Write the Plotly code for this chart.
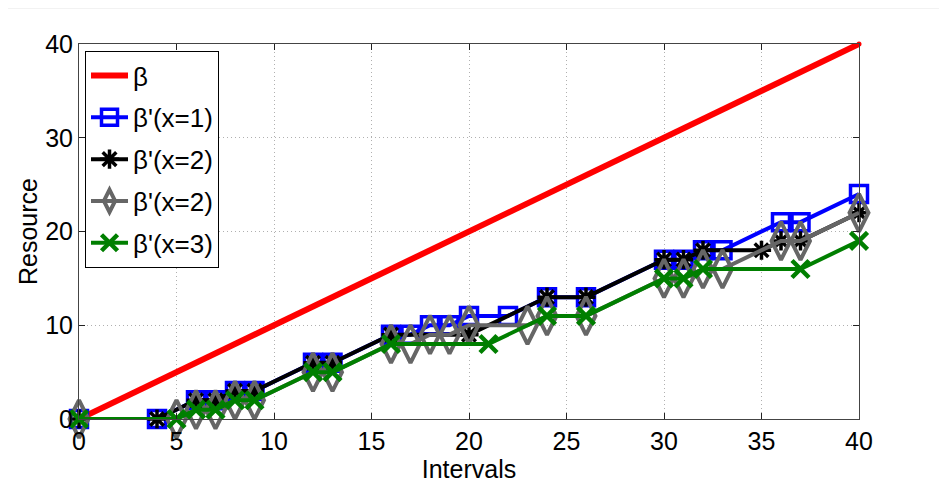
import plotly.graph_objects as go

# ---- data ----
beta_x = [0, 40]
beta_y = [0, 40]

b1_x = [0, 4, 6, 7, 8, 9, 12, 13, 16, 17, 18, 19, 20, 22, 24, 26, 30, 31, 32, 33, 36, 37, 40]
b1_y = [0, 0, 2, 2, 3, 3, 6, 6, 9, 9, 10, 10, 11, 11, 13, 13, 17, 17, 18, 18, 21, 21, 24]

b2_x = [0, 4, 6, 7, 8, 9, 12, 13, 16, 20, 24, 26, 30, 31, 32, 35, 36, 37, 40]
b2_y = [0, 0, 2, 2, 3, 3, 6, 6, 9, 9, 13, 13, 17, 17, 18, 18, 19, 19, 22]

b2b_x = [0, 5, 6, 7, 8, 9, 12, 13, 16, 17, 18, 19, 20, 23, 24, 26, 30, 31, 32, 33, 36, 37, 40]
b2b_y = [0, 0, 1, 1, 2, 2, 5, 5, 8, 8, 9, 9, 10, 10, 11, 11, 15, 15, 16, 16, 19, 19, 22]

b3_x = [0, 5, 6, 7, 8, 9, 12, 13, 16, 21, 24, 26, 30, 31, 32, 37, 40]
b3_y = [0, 0, 1, 1, 2, 2, 5, 5, 8, 8, 11, 11, 15, 15, 16, 16, 19]

names = ["β", "β'(x=1)", "β'(x=2)", "β'(x=2)", "β'(x=3)"]
x_ticks = [0, 5, 10, 15, 20, 25, 30, 35, 40]
y_ticks = [0, 10, 20, 30, 40]

FONT = "Liberation Sans Narrow, Arial Narrow, Liberation Sans, Arial, sans-serif"

fig = go.Figure()
fig.add_trace(go.Scatter(x=beta_x, y=beta_y, name=names[0], mode="lines+markers",
                         line=dict(color="#ff0000", width=6),
                         marker=dict(symbol="circle", size=5, color="#ff0000"),
                         legendgroup="g0", cliponaxis=False))
fig.add_trace(go.Scatter(x=b1_x, y=b1_y, name=names[1], mode="lines+markers",
                         line=dict(color="#0000ff", width=4),
                         marker=dict(symbol="square-open", size=17, color="#0000ff",
                                     line=dict(width=3.5, color="#0000ff")),
                         legendgroup="g1", cliponaxis=False))
fig.add_trace(go.Scatter(x=b2_x, y=b2_y, name=names[2], mode="lines+markers",
                         line=dict(color="#000000", width=4),
                         marker=dict(symbol="asterisk-open", size=16, color="#000000",
                                     line=dict(width=3.5, color="#000000")),
                         legendgroup="g2", cliponaxis=False))
fig.add_trace(go.Scatter(x=b2b_x, y=b2b_y, name=names[3], mode="lines+markers",
                         line=dict(color="#666666", width=4),
                         marker=dict(symbol="diamond-tall-open", size=27, color="#666666",
                                     line=dict(width=4, color="#666666")),
                         legendgroup="g3", cliponaxis=False))
fig.add_trace(go.Scatter(x=b3_x, y=b3_y, name=names[4], mode="lines+markers",
                         line=dict(color="#007f00", width=4),
                         marker=dict(symbol="x-thin-open", size=17, color="#007f00",
                                     line=dict(width=4.5, color="#007f00")),
                         legendgroup="g4", cliponaxis=False))

axis_common = dict(
    showline=True, linecolor="#444444", linewidth=1, mirror="ticks",
    ticks="inside", ticklen=6, tickcolor="#222222",
    showgrid=True, gridcolor="#b0b0b0", griddash="1px,3px", gridwidth=1,
    zeroline=False,
    tickfont=dict(family=FONT, size=25, color="black"),
)

fig.update_xaxes(range=[0, 40], tickvals=x_ticks, ticktext=[str(v) for v in x_ticks],
                 title=dict(text="Intervals", font=dict(family=FONT, size=25, color="black"),
                            standoff=0),
                 **axis_common)
fig.update_yaxes(range=[0, 40], tickvals=y_ticks, ticktext=[str(v) for v in y_ticks],
                 title=dict(text="Resource", font=dict(family=FONT, size=25, color="black"),
                            standoff=0),
                 **axis_common)

fig.update_layout(
    width=947, height=484,
    margin=dict(l=71, r=96, t=36, b=73),
    paper_bgcolor="white", plot_bgcolor="white",
    showlegend=True,
    legend=dict(x=0.0077, y=0.981, xanchor="left", yanchor="top",
                bgcolor="white", bordercolor="black", borderwidth=1,
                font=dict(family=FONT, size=26, color="black"),
                tracegroupgap=5, itemwidth=37),
    shapes=[dict(type="line", xref="paper", yref="paper",
                 x0=-0.2, x1=1.2, y0=1.096, y1=1.096,
                 line=dict(color="#e6e6e6", width=1))],
)

fig.write_html("out.html")
